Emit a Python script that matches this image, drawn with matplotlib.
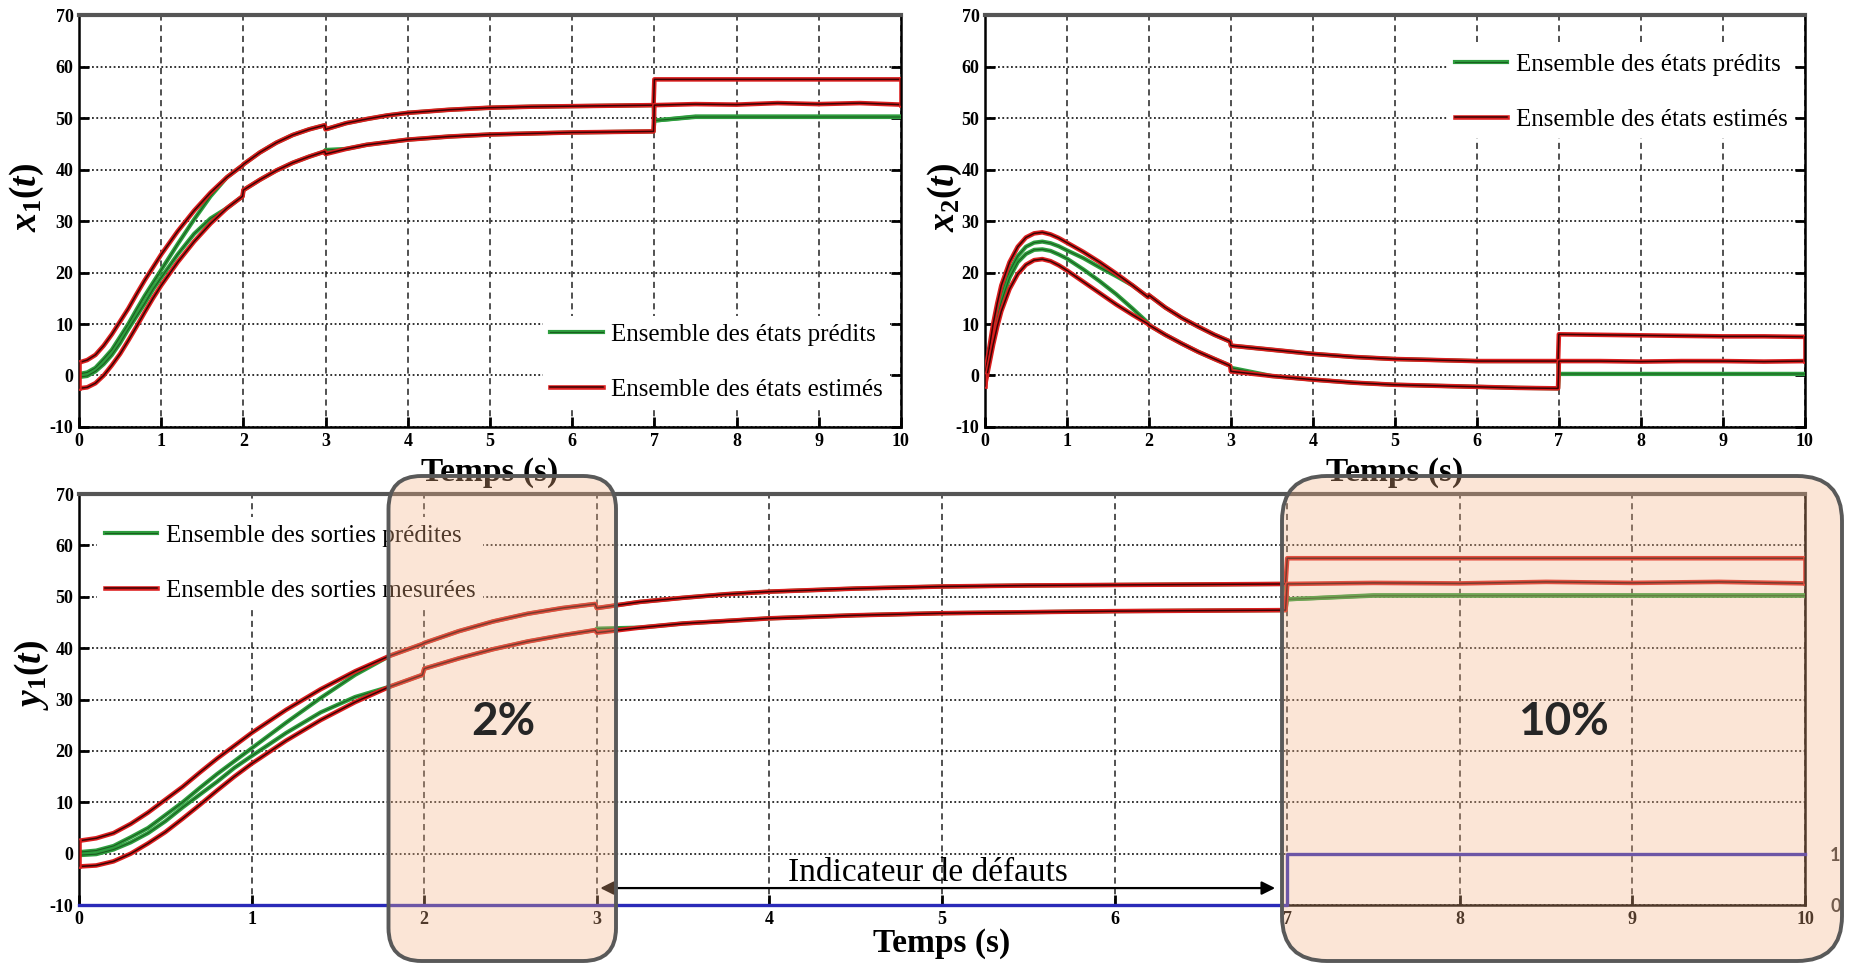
import matplotlib
matplotlib.use("Agg")
import matplotlib.pyplot as plt
import matplotlib.patheffects as pe
from matplotlib.lines import Line2D
from matplotlib.patches import FancyBboxPatch

plt.rcParams['font.family'] = ['Liberation Serif', 'DejaVu Serif']
plt.rcParams['mathtext.fontset'] = 'custom'
plt.rcParams['mathtext.rm'] = 'Liberation Serif:bold'
plt.rcParams['mathtext.it'] = 'Liberation Serif:italic:bold'
plt.rcParams['mathtext.bf'] = 'Liberation Serif:bold'
plt.rcParams['axes.unicode_minus'] = False

# ---- data ----
# x1(t) / y1(t)
t1 = [0, 0.1, 0.2, 0.3, 0.4, 0.5, 0.6, 0.7, 0.8, 0.9, 1.0, 1.2, 1.4, 1.6, 1.8, 1.99,
      2, 2.2, 2.4, 2.6, 2.8, 2.99, 3, 3.25, 3.5, 3.75, 4, 4.5, 5, 5.5, 6, 6.5, 6.99,
      7, 7.5, 8, 8.5, 9, 9.5, 10]
x1_est_hi = [2.5, 3, 4, 5.8, 8, 10.5, 13, 15.8, 18.5, 21, 23.5, 28, 32, 35.5, 38.5, 40.8,
             41, 43.3, 45.2, 46.7, 47.8, 48.6, 47.8, 49, 49.8, 50.5, 51, 51.6, 52, 52.2, 52.3, 52.4, 52.5,
             57.5, 57.5, 57.5, 57.5, 57.5, 57.5, 57.5]
x1_est_lo = [-2.5, -2.3, -1.5, 0, 2, 4.2, 6.8, 9.5, 12.3, 15, 17.5, 22, 26, 29.5, 32.5, 34.8,
             36, 38, 39.8, 41.3, 42.5, 43.5, 43, 44, 44.8, 45.3, 45.8, 46.4, 46.8, 47.0, 47.2, 47.3, 47.4,
             52.5, 52.7, 52.6, 52.9, 52.7, 52.9, 52.6]
x1_pred_hi = [0.3, 0.6, 1.5, 3.2, 5, 7.5, 10, 12.8, 15.5, 18, 20.5, 25.5, 30.3, 34.8, 38.5, 40.8,
              41, 43.3, 45.2, 46.7, 47.8, 48.6, 47.8, 49, 49.8, 50.5, 51, 51.6, 52, 52.2, 52.3, 52.4, 52.5,
              49.5, 50.3, 50.3, 50.3, 50.3, 50.3, 50.3]
x1_pred_lo = [-0.3, -0.1, 0.8, 2.2, 4, 6.3, 9, 11.5, 14, 16.7, 19, 23.5, 27.5, 30.5, 32.5, 34.8,
              36, 38, 39.8, 41.3, 42.5, 43.5, 43.8, 44, 44.8, 45.3, 45.8, 46.4, 46.8, 47.0, 47.2, 47.3, 47.4,
              49.5, 50.2, 50.2, 50.2, 50.2, 50.2, 50.2]

# x2(t)
t2 = [0, 0.05, 0.1, 0.15, 0.2, 0.3, 0.4, 0.5, 0.6, 0.7, 0.8, 0.9, 1, 1.2, 1.4, 1.6, 1.8, 1.99,
      2, 2.2, 2.4, 2.6, 2.8, 2.99, 3, 3.5, 4, 4.5, 5, 5.5, 6, 6.5, 6.99,
      7, 7.5, 8, 8.5, 9, 9.5, 10]
x2_est_hi = [0, 5, 10, 14, 17.5, 22, 25, 26.8, 27.6, 27.8, 27.4, 26.7, 25.8, 24, 22, 19.8, 17.5, 15.2,
             15.6, 13.2, 11.2, 9.5, 7.9, 6.6, 5.8, 5, 4.2, 3.6, 3.2, 3.0, 2.8, 2.8, 2.8,
             8, 7.9, 7.8, 7.7, 7.6, 7.6, 7.5]
x2_est_lo = [-2, 2, 6, 9.5, 12.5, 16.8, 19.7, 21.5, 22.4, 22.6, 22.2, 21.4, 20.4, 18.2, 16, 13.8, 11.8, 10,
             9.8, 7.9, 6.2, 4.6, 3.2, 1.9, 0.8, -0.1, -0.8, -1.4, -1.8, -2.0, -2.2, -2.4, -2.5,
             2.8, 2.8, 2.7, 2.8, 2.8, 2.7, 2.8]
x2_pred_hi = [-1, 3.5, 8.2, 12, 15.5, 20.2, 23.2, 25, 25.8, 26, 25.7, 25.1, 24.3, 22.8, 21.0, 19.3, 17.5, 15.2,
              15.6, 13.2, 11.2, 9.5, 7.9, 6.6, 5.8, 5, 4.2, 3.6, 3.2, 3.0, 2.8, 2.8, 2.8,
              0.3, 0.3, 0.3, 0.3, 0.3, 0.3, 0.3]
x2_pred_lo = [-1, 3, 7.5, 11, 14.3, 19, 22, 23.6, 24.4, 24.5, 24.2, 23.5, 22.7, 20.6, 18.3, 15.8, 13.0, 10.2,
              9.8, 7.9, 6.2, 4.6, 3.2, 1.9, 1.5, -0.1, -0.8, -1.4, -1.8, -2.0, -2.2, -2.4, -2.5,
              0.3, 0.3, 0.3, 0.3, 0.3, 0.3, 0.3]

# fault indicator (right axis, 0/1)
fault_t = [0, 7, 7, 10]
fault_flag = [0, 0, 1, 1]

RED = '#dc1f1f'
DARK_RED = '#3a0404'
GREEN = '#2e9e3e'
DARK_GREEN = '#1b5e20'
BLUE = '#2a2ab8'

red_fx = [pe.Stroke(linewidth=3.3, foreground=RED), pe.Normal()]
green_fx = [pe.Stroke(linewidth=3.0, foreground=GREEN), pe.Normal()]


def draw_sets(ax, t, pred_hi, pred_lo, est_hi, est_lo):
    for y in (pred_hi, pred_lo):
        ax.plot(t, y, color=DARK_GREEN, lw=0.8, path_effects=green_fx, zorder=3)
    for y in (est_hi, est_lo):
        ax.plot(t, y, color=DARK_RED, lw=1.1, path_effects=red_fx, zorder=4)
    # closing edges of the estimated set
    for i in (0, -1):
        ax.plot([t[i], t[i]], [est_lo[i], est_hi[i]], color=DARK_RED, lw=1.1,
                path_effects=red_fx, zorder=4)


def style(ax, ylabel, ylab_x, ylab_y, xlab_y):
    ax.set_xlim(0, 10)
    ax.set_ylim(-10, 70)
    ax.set_xticks(range(0, 11))
    ax.set_yticks(range(-10, 71, 10))
    ax.xaxis.grid(True, linestyle=(0, (4, 3)), color='#222222', lw=1.1)
    ax.yaxis.grid(True, linestyle=(0, (1, 1.4)), color='#222222', lw=1.3)
    ax.set_axisbelow(True)
    ax.tick_params(direction='in', length=7, width=2, right=True, labelsize=13, pad=4)
    for lab in ax.get_xticklabels() + ax.get_yticklabels():
        lab.set_fontweight('bold')
    for s in ('left', 'right', 'bottom'):
        ax.spines[s].set_linewidth(1.8)
    ax.spines['top'].set_linewidth(3)
    ax.spines['top'].set_color('#555555')
    ax.set_xlabel('Temps (s)', fontsize=24, fontweight='bold')
    ax.xaxis.set_label_coords(0.5, xlab_y)
    ax.set_ylabel(ylabel, fontsize=27)
    ax.yaxis.set_label_coords(ylab_x, ylab_y)


def add_legend(ax, labels, anchor):
    h1 = Line2D([], [], color=DARK_GREEN, lw=0.8, path_effects=green_fx)
    h2 = Line2D([], [], color=DARK_RED, lw=1.1, path_effects=red_fx)
    ax.legend([h1, h2], labels, loc='upper left', bbox_to_anchor=anchor,
              frameon=True, fancybox=False, edgecolor='none', facecolor='white',
              framealpha=1, fontsize=18, handlelength=2.1, handletextpad=0.33,
              labelspacing=1.3, borderpad=0.3, borderaxespad=0)


fig = plt.figure(figsize=(18.5, 9.63), dpi=100)
ax1 = fig.add_axes([0.0427, 0.5566, 0.4443, 0.4278])
ax2 = fig.add_axes([0.5324, 0.5566, 0.4432, 0.4278])
ax3 = fig.add_axes([0.0427, 0.0602, 0.9330, 0.4268])

draw_sets(ax1, t1, x1_pred_hi, x1_pred_lo, x1_est_hi, x1_est_lo)
style(ax1, r'$x_1(t)$', -0.04, 0.556, -0.072)
add_legend(ax1, ['Ensemble des états prédits', 'Ensemble des états estimés'], (0.564, 0.27))

draw_sets(ax2, t2, x2_pred_hi, x2_pred_lo, x2_est_hi, x2_est_lo)
style(ax2, r'$x_2(t)$', -0.025, 0.557, -0.072)
add_legend(ax2, ['Ensemble des états prédits', 'Ensemble des états estimés'], (0.564, 0.925))

draw_sets(ax3, t1, x1_pred_hi, x1_pred_lo, x1_est_hi, x1_est_lo)
style(ax3, r'$y_1(t)$', -0.0165, 0.56, -0.056)
add_legend(ax3, ['Ensemble des sorties prédites', 'Ensemble des sorties mesurées'], (0.0107, 0.945))

# fault indicator on a right axis
axr = ax3.twinx()
axr.set_ylim(0, 8)
axr.set_yticks([0, 1])
axr.tick_params(length=0, pad=18)
for lab in axr.get_yticklabels():
    lab.set_fontfamily('Lato')
    lab.set_fontweight('bold')
    lab.set_fontsize(13)
    lab.set_color('#333333')
for s in axr.spines.values():
    s.set_visible(False)
axr.plot(fault_t, fault_flag, color=BLUE, lw=2.4, clip_on=False, zorder=5)

ax3.annotate('', xy=(3.02, -6.7), xytext=(6.93, -6.7),
             arrowprops=dict(arrowstyle='<|-|>', color='black', lw=1.6,
                             mutation_scale=20, shrinkA=0, shrinkB=0))
ax3.text(4.92, -3.8, 'Indicateur de défauts', ha='center', va='center', fontsize=24)

# highlighted fault windows
for (x0, w, r) in [(3.885, 2.275, 0.33), (12.82, 5.60, 0.45)]:
    box = FancyBboxPatch((x0, 0.02), w, 4.85,
                         boxstyle='round,pad=0,rounding_size=%s' % r,
                         transform=fig.dpi_scale_trans,
                         facecolor=(0.957, 0.694, 0.514, 0.33),
                         edgecolor='#595959', linewidth=2.8, zorder=3)
    fig.add_artist(box)

fig.text(0.272, 0.25, '2%', fontsize=33, fontweight='bold', family='Lato',
         color='#262626', ha='center', va='center', zorder=6)
fig.text(0.845, 0.25, '10%', fontsize=33, fontweight='bold', family='Lato',
         color='#262626', ha='center', va='center', zorder=6)

fig.savefig('out.png', dpi=100)
